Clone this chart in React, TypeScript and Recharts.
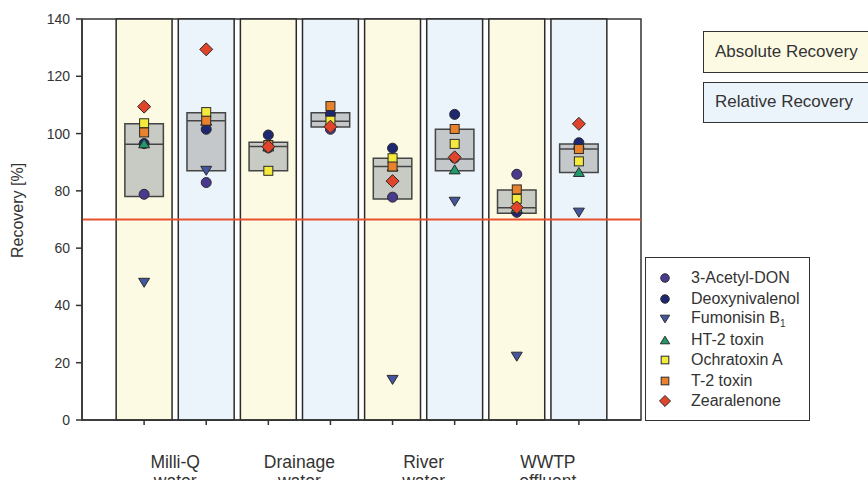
import React from "react";
import {
  ComposedChart,
  Scatter,
  XAxis,
  YAxis,
  ReferenceArea,
  ReferenceLine,
} from "recharts";

// sample columns: odd = absolute recovery, even = relative recovery
const positions = [1, 2, 3, 4, 5, 6, 7, 8];
const bandKinds = ["abs", "rel", "abs", "rel", "abs", "rel", "abs", "rel"];
const groupTicks = [1.5, 3.5, 5.5, 7.5];
const groupLabels = [
  ["Milli-Q", "water"],
  ["Drainage", "water"],
  ["River", "water"],
  ["WWTP", "effluent"],
];
const yTicks = [0, 20, 40, 60, 80, 100, 120, 140];
const threshold = 70;

// box (25th / median / 75th percentile)
const boxLow = [78, 87, 87, 102.3, 77.2, 87, 72.2, 86.4];
const boxMedian = [96.3, 104.5, 95.5, 104.3, 88.5, 91.1, 74.1, 94.6];
const boxHigh = [103.4, 107.3, 97, 107.3, 91.4, 101.5, 80.3, 96.4];

// recovery per compound, one value per column
const acetylDon = [78.8, 82.9, 95, 101.5, 77.8, 91.5, 85.8, 95];
const deoxynivalenol = [96.5, 101.5, 99.5, 106.8, 94.9, 106.7, 72.5, 96.8];
const fumonisin = [47.9, 87, null, null, 14, 76.2, 22.1, 72.4];
const ht2 = [96.6, 104.5, 95.5, 104, 88.5, 87.5, 74, 86.6];
const ochratoxin = [103.6, 107.5, 87, 104.5, 91.4, 96.4, 77.2, 90.3];
const t2 = [100.4, 104.5, 96, 109.6, 88.5, 101.6, 80.5, 94.6];
const zearalenone = [109.4, 129.4, 95.4, 102.4, 83.4, 91.7, 74.2, 103.4];

const compounds = [
  { name: "3-Acetyl-DON", values: acetylDon, color: "#4a3a8f", shape: "circle" },
  { name: "Deoxynivalenol", values: deoxynivalenol, color: "#1e2870", shape: "circle" },
  { name: "Fumonisin B", sub: "1", values: fumonisin, color: "#4456a0", shape: "down" },
  { name: "HT-2 toxin", values: ht2, color: "#1f9a68", shape: "up" },
  { name: "Ochratoxin A", values: ochratoxin, color: "#f3ea3c", shape: "square" },
  { name: "T-2 toxin", values: t2, color: "#e8822c", shape: "square" },
  { name: "Zearalenone", values: zearalenone, color: "#e0452c", shape: "diamond" },
];

const FONT = "'Liberation Sans', Arial, sans-serif";
const INK = "#333";

function Marker({ cx, cy, shape, color, s = 1 }: any) {
  const st = { fill: color, stroke: "#2a2a2a", strokeWidth: 1 };
  if (shape === "circle") return <circle cx={cx} cy={cy} r={5 * s} {...st} />;
  if (shape === "square") {
    const h = 4.5 * s;
    return <rect x={cx - h} y={cy - h} width={2 * h} height={2 * h} {...st} />;
  }
  if (shape === "diamond") {
    const h = 6.5 * s;
    return <polygon points={`${cx},${cy - h} ${cx + h},${cy} ${cx},${cy + h} ${cx - h},${cy}`} {...st} />;
  }
  if (shape === "up") {
    const w = 5.5 * s, h = 4.5 * s;
    return <polygon points={`${cx},${cy - h} ${cx + w},${cy + h} ${cx - w},${cy + h}`} {...st} />;
  }
  const w = 5.5 * s, h = 4.5 * s;
  return <polygon points={`${cx - w},${cy - h} ${cx + w},${cy - h} ${cx},${cy + h}`} {...st} />;
}

function GroupTick({ x, y, payload }: any) {
  const i = groupTicks.indexOf(payload.value);
  const lines = groupLabels[i] || ["", ""];
  return (
    <text x={x} y={y} textAnchor="middle" fill={INK} fontSize={17.5} fontFamily={FONT}>
      <tspan x={x} dy={28}>{lines[0]}</tspan>
      <tspan x={x} dy={19}>{lines[1]}</tspan>
    </text>
  );
}

function YLabel({ viewBox }: any) {
  const x = viewBox.x + 17;
  const y = viewBox.y + viewBox.height / 2 - 9;
  return (
    <text x={x} y={y} transform={`rotate(-90 ${x} ${y})`} textAnchor="middle"
      dominantBaseline="central" fill={INK} fontSize={16} fontFamily={FONT}>
      Recovery [%]
    </text>
  );
}

export default function App() {
  return (
    <div style={{ position: "relative", width: 868, height: 480, overflow: "hidden", background: "#fff", fontFamily: FONT }}>
      <style>{"body{margin:0}"}</style>
      <ComposedChart width={868} height={480} margin={{ top: 19, right: 227, left: 0, bottom: 0 }}>
        <XAxis dataKey="x" type="number" domain={[0, 9]} ticks={positions} tickFormatter={() => ""}
          height={20} tickSize={5} stroke={INK} strokeWidth={1.5} allowDataOverflow />
        <XAxis xAxisId="grp" dataKey="x" type="number" domain={[0, 9]} ticks={groupTicks}
          height={40} axisLine={false} tickLine={false} tickSize={0} tickMargin={0}
          tick={(p: any) => <GroupTick {...p} />} allowDataOverflow />
        <YAxis dataKey="y" type="number" domain={[0, 140]} ticks={yTicks} width={82}
          tickSize={6} tickMargin={6} stroke={INK} strokeWidth={1.5}
          tick={{ fill: INK, fontSize: 14, fontFamily: FONT }}
          label={{ content: (p: any) => <YLabel {...p} /> }} />

        <ReferenceArea x1={0} x2={9} y1={0} y2={140} fill="none" stroke={INK} strokeWidth={1.5} />
        {positions.map((p, i) => (
          <ReferenceArea key={`band-${p}`} x1={p - 0.45} x2={p + 0.45} y1={0} y2={140}
            fill={bandKinds[i] === "abs" ? "#fcfae3" : "#ecf4fb"} fillOpacity={1}
            stroke="#2a2a2a" strokeWidth={1.5} />
        ))}
        <ReferenceLine y={threshold} stroke="#e8502e" strokeWidth={2} />
        {positions.map((p, i) => (
          <ReferenceArea key={`box-${p}`} x1={p - 0.31} x2={p + 0.31} y1={boxLow[i]} y2={boxHigh[i]}
            fill="#b4b7b9" fillOpacity={0.72} stroke="#444" strokeWidth={1.5} />
        ))}
        {positions.map((p, i) => (
          <ReferenceLine key={`med-${p}`} segment={[{ x: p - 0.31, y: boxMedian[i] }, { x: p + 0.31, y: boxMedian[i] }]}
            stroke="#444" strokeWidth={1.5} />
        ))}

        {compounds.map((c) => (
          <Scatter key={c.name} name={c.name} dataKey="y" isAnimationActive={false}
            data={positions.map((p, i) => ({ x: p, y: c.values[i] })).filter((d) => d.y != null)}
            shape={(p: any) => <Marker cx={p.cx} cy={p.cy} shape={c.shape} color={c.color} />} />
        ))}
      </ComposedChart>

      <div style={{ position: "absolute", left: 703, top: 31, width: 200, height: 42, boxSizing: "border-box",
        border: "1.5px solid #333", background: "#fcfae3", fontSize: 17, color: INK, paddingLeft: 11, lineHeight: "39px" }}>
        Absolute Recovery
      </div>
      <div style={{ position: "absolute", left: 703, top: 82, width: 200, height: 41, boxSizing: "border-box",
        border: "1.5px solid #333", background: "#ecf4fb", fontSize: 17, color: INK, paddingLeft: 11, lineHeight: "38px" }}>
        Relative Recovery
      </div>

      <div style={{ position: "absolute", left: 645, top: 257, width: 165, height: 164, boxSizing: "border-box",
        border: "1.5px solid #333", background: "#fff", paddingTop: 10 }}>
        {compounds.map((c) => (
          <div key={c.name} style={{ display: "flex", alignItems: "center", height: 20.5, fontSize: 16, color: INK, whiteSpace: "nowrap" }}>
            <svg width={18} height={16} style={{ marginLeft: 10, marginRight: 17, flexShrink: 0 }}>
              <Marker cx={9} cy={8} shape={c.shape} color={c.color} s={0.85} />
            </svg>
            <span>
              {c.name}
              {c.sub ? <sub style={{ fontSize: 10 }}>{c.sub}</sub> : null}
            </span>
          </div>
        ))}
      </div>
    </div>
  );
}
